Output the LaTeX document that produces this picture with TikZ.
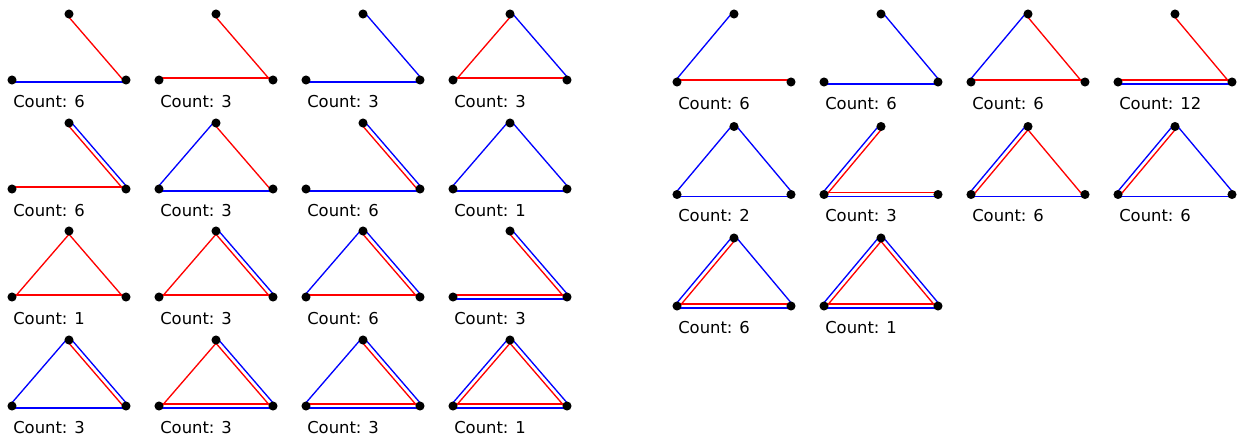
\documentclass[tikz,border=0pt]{standalone}
\usepackage{fontspec}
\setmainfont{DejaVu Sans}
\usetikzlibrary{calc,backgrounds}
\definecolor{edgered}{RGB}{255,0,0}
\definecolor{edgeblue}{RGB}{0,0,255}
\newcommand{\edgegap}{1.6pt}
\tikzset{
  vertex/.style={circle, fill=black, inner sep=0pt, minimum size=6.8pt},
  redline/.style={draw=edgered, line width=1pt},
  blueline/.style={draw=edgeblue, line width=1pt},
  countlabel/.style={anchor=base west, inner sep=0pt, font=\fontsize{12.3}{14}\selectfont},
}
% one panel: name, x, y of left vertex, height, count
\newcommand{\panel}[5]{%
  \node[vertex] (#1L) at (#2,#3) {};
  \node[vertex] (#1R) at ($(#1L)+(114,0)$) {};
  \node[vertex] (#1T) at ($(#1L)+(57,-#4)$) {};
  \node[countlabel] (#1c) at ($(#1L)+(1,27)$) {Count: #5};
}
% red edges sit inside, blue edges outside (edges taken L->R, R->T, T->L)
\newcommand{\redge}[3]{\begin{scope}[on background layer]
  \draw[redline] ($(#1#2.center)!\edgegap!90:(#1#3.center)$) -- ($(#1#3.center)!\edgegap!-90:(#1#2.center)$);
  \end{scope}}
\newcommand{\bedge}[3]{\begin{scope}[on background layer]
  \draw[blueline] ($(#1#2.center)!\edgegap!-90:(#1#3.center)$) -- ($(#1#3.center)!\edgegap!90:(#1#2.center)$);
  \end{scope}}
\newcommand{\dedge}[3]{\redge{#1}{#2}{#3}\bedge{#1}{#2}{#3}}

\begin{document}
\begin{tikzpicture}[x=0.75pt, y=-0.75pt]
  \useasboundingbox (0,0) rectangle (1248,439);

  % left block
  \panel{A1}{12}{80}{66}{6}    \redge{A1}{R}{T} \bedge{A1}{L}{R}
  \panel{A2}{159}{80}{66}{3}   \redge{A2}{R}{T} \redge{A2}{L}{R}
  \panel{A3}{306}{80}{66}{3}   \bedge{A3}{R}{T} \bedge{A3}{L}{R}
  \panel{A4}{453}{80}{66}{3}   \redge{A4}{T}{L} \bedge{A4}{R}{T} \redge{A4}{L}{R}

  \panel{B1}{12}{189}{66}{6}   \dedge{B1}{R}{T} \redge{B1}{L}{R}
  \panel{B2}{159}{189}{66}{3}  \bedge{B2}{T}{L} \redge{B2}{R}{T} \bedge{B2}{L}{R}
  \panel{B3}{306}{189}{66}{6}  \dedge{B3}{R}{T} \bedge{B3}{L}{R}
  \panel{B4}{453}{189}{66}{1}  \bedge{B4}{T}{L} \bedge{B4}{R}{T} \bedge{B4}{L}{R}

  \panel{C1}{12}{297}{66}{1}   \redge{C1}{T}{L} \redge{C1}{R}{T} \redge{C1}{L}{R}
  \panel{C2}{159}{297}{66}{3}  \redge{C2}{T}{L} \dedge{C2}{R}{T} \redge{C2}{L}{R}
  \panel{C3}{306}{297}{66}{6}  \bedge{C3}{T}{L} \dedge{C3}{R}{T} \redge{C3}{L}{R}
  \panel{C4}{453}{297}{66}{3}  \dedge{C4}{R}{T} \dedge{C4}{L}{R}

  \panel{D1}{12}{406}{66}{3}   \bedge{D1}{T}{L} \dedge{D1}{R}{T} \bedge{D1}{L}{R}
  \panel{D2}{159}{406}{66}{3}  \redge{D2}{T}{L} \dedge{D2}{R}{T} \dedge{D2}{L}{R}
  \panel{D3}{306}{406}{66}{3}  \bedge{D3}{T}{L} \dedge{D3}{R}{T} \dedge{D3}{L}{R}
  \panel{D4}{453}{406}{66}{1}  \dedge{D4}{T}{L} \dedge{D4}{R}{T} \dedge{D4}{L}{R}

  % right block
  \panel{E1}{677}{82}{68}{6}   \bedge{E1}{T}{L} \redge{E1}{L}{R}
  \panel{E2}{824}{82}{68}{6}   \bedge{E2}{R}{T} \bedge{E2}{L}{R}
  \panel{E3}{971}{82}{68}{6}   \bedge{E3}{T}{L} \redge{E3}{R}{T} \redge{E3}{L}{R}
  \panel{E4}{1118}{82}{68}{12} \redge{E4}{R}{T} \dedge{E4}{L}{R}

  \panel{F1}{677}{194.5}{68}{2}  \bedge{F1}{T}{L} \bedge{F1}{R}{T} \bedge{F1}{L}{R}
  \panel{F2}{824}{194.5}{68}{3}  \dedge{F2}{T}{L} \dedge{F2}{L}{R}
  \panel{F3}{971}{194.5}{68}{6}  \dedge{F3}{T}{L} \redge{F3}{R}{T} \bedge{F3}{L}{R}
  \panel{F4}{1118}{194.5}{68}{6} \dedge{F4}{T}{L} \bedge{F4}{R}{T} \bedge{F4}{L}{R}

  \panel{G1}{677}{306}{68}{6}  \dedge{G1}{T}{L} \bedge{G1}{R}{T} \dedge{G1}{L}{R}
  \panel{G2}{824}{306}{68}{1}  \dedge{G2}{T}{L} \dedge{G2}{R}{T} \dedge{G2}{L}{R}
\end{tikzpicture}
\end{document}
